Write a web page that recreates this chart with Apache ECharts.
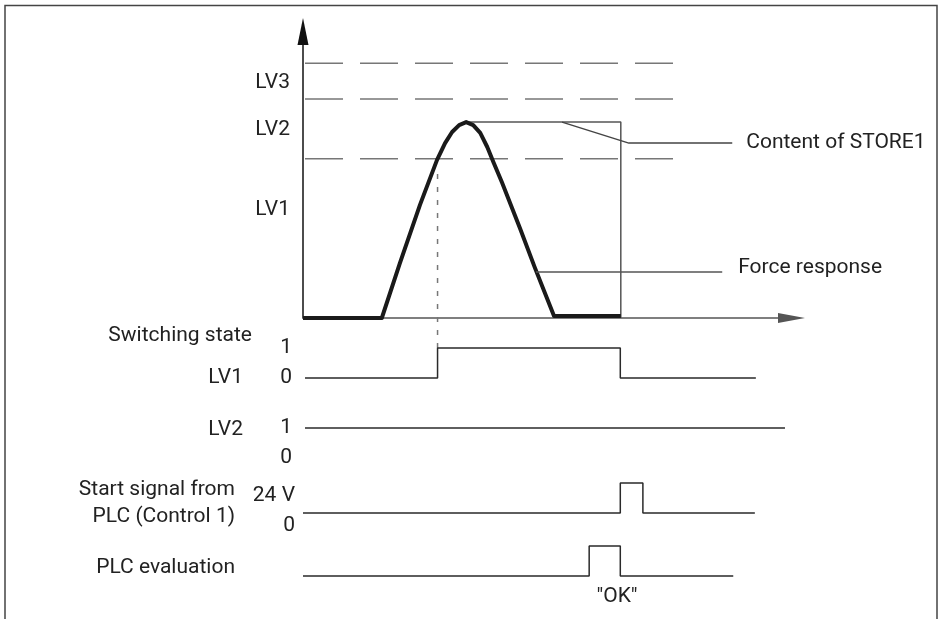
<!DOCTYPE html>
<html>
<head>
<meta charset="utf-8">
<title>Switching levels and force response</title>
<script src="https://cdn.jsdelivr.net/npm/echarts@6/dist/echarts.min.js"></script>
<style>
html, body { margin: 0; padding: 0; background: #fff; }
#chart { width: 942px; height: 619px; }
</style>
</head>
<body>
<div id="chart"></div>
<script>
// time in arbitrary units (0 = force axis), force in arbitrary units
const forceTime  = [0, 15.7, 19.3, 23.3, 26.7, 28.3, 29.7, 31.1, 32.5, 33.9, 35.3, 36.7, 38.0, 39.6, 43.2, 46.2, 50.0, 63.3];
const forceValue = [0, 0,    18.3, 37.7, 52.7, 58.3, 62.0, 64.3, 65.3, 64.3, 61.7, 57.0, 51.7, 45.3, 30.0, 16.7, 0.7,  0.7];

// limit value lines LV1, LV2, LV3
const levelValues = [53.1, 73.0, 84.9];
const levelStart = 0.4;
const levelEnd = 73.7;
const levelTickPos = [36, 62.9, 78.4];
const levelTickNames = ['LV1', 'LV2', 'LV3'];

// peak hold (STORE1)
const storeTime  = [32.5, 63.3, 63.3];
const storeValue = [65.3, 65.3, 0];

// switching states
const lv1Time  = [0.4, 26.8, 26.8, 63.2, 63.2, 90.2];
const lv1State = [0, 0, 1, 1, 0, 0];
const lv2Time  = [0.4, 96.0];
const lv2State = [1, 1];
const startTime  = [0, 63.2, 63.2, 67.7, 67.7, 90.0];
const startState = [0, 0, 1, 1, 0, 0];
const plcTime  = [0, 57.0, 57.0, 63.2, 63.2, 85.7];
const plcState = [0, 0, 1, 1, 0, 0];

// trigger marker (dashed vertical) and label leaders
const triggerTime = 26.8;
const triggerFrom = 48;
const triggerTo = -10;
const forceLeaderTime  = [46.4, 83.5];
const forceLeaderValue = [15.3, 15.3];
const storeLeaderTime  = [51.6, 64.9, 85.5];
const storeLeaderValue = [65.3, 58.3, 58.3];

const zip = (a, b) => a.map((v, i) => [v, b[i]]);

const FONT = 'Roboto';
const FS = 21;
const TXT = '#222';
const T_MAX = 97.3;

const chart = echarts.init(document.getElementById('chart'));

const gridTops = [348, 428, 483, 546];
const grids = [{ left: 303, top: 31.5, width: 488.5, height: 286.5 }]
  .concat(gridTops.map(t => ({ left: 303, top: t, width: 488.5, height: 30 })));

const xAxes = grids.map((g, i) => ({
  type: 'value', gridIndex: i, min: 0, max: T_MAX,
  axisLine: i === 0 ? {
    show: true, onZero: false,
    symbol: ['none', 'triangle'], symbolSize: [10, 27],
    lineStyle: { color: '#555', width: 1.5 }
  } : { show: false },
  axisTick: { show: false }, axisLabel: { show: false }, splitLine: { show: false }
}));

const stateLabels = [
  ['0', '1'], ['0', '1'], ['0', '24 V'], ['', '']
];

const yAxes = [{
  type: 'value', gridIndex: 0, min: 0, max: 95.5,
  axisLine: {
    show: true, onZero: false,
    symbol: ['none', 'triangle'], symbolSize: [11, 27],
    lineStyle: { color: '#111', width: 1.5 }
  },
  axisTick: { show: false }, splitLine: { show: false },
  axisLabel: {
    customValues: levelTickPos,
    margin: 13, fontSize: FS, fontFamily: FONT, color: TXT,
    formatter: v => {
      let best = 0;
      levelTickPos.forEach((p, i) => { if (Math.abs(p - v) < Math.abs(levelTickPos[best] - v)) best = i; });
      return levelTickNames[best];
    }
  }
}].concat(stateLabels.map((lab, i) => ({
  type: 'value', gridIndex: i + 1, min: 0, max: 1, interval: 1,
  axisLine: { show: false }, axisTick: { show: false }, splitLine: { show: false },
  axisLabel: {
    margin: i === 2 ? 8 : 11, fontSize: FS, fontFamily: FONT, color: TXT,
    verticalAlign: i === 2 ? 'top' : 'middle',
    padding: i === 2 ? [2, 0, 0, 0] : 0,
    formatter: v => lab[v]
  }
})));

const thin = (color) => ({ color: color, width: 1.5 });

const series = [];

levelValues.forEach(v => {
  series.push({
    type: 'line', xAxisIndex: 0, yAxisIndex: 0, symbol: 'none', silent: true,
    data: [[levelStart, v], [levelEnd, v]],
    lineStyle: { color: '#777', width: 1.5, type: [38, 17] }
  });
});

series.push({
  type: 'line', xAxisIndex: 0, yAxisIndex: 0, symbol: 'none', silent: true,
  data: zip(storeTime, storeValue),
  lineStyle: thin('#555')
});

series.push({
  type: 'line', xAxisIndex: 0, yAxisIndex: 0, symbol: 'none', silent: true, clip: false,
  data: [[triggerTime, triggerFrom], [triggerTime, triggerTo]],
  lineStyle: { color: '#777', width: 1.5, type: [5, 8] }
});

series.push({
  type: 'line', xAxisIndex: 0, yAxisIndex: 0, symbol: 'none', silent: true,
  data: zip(forceTime, forceValue),
  lineStyle: { color: '#1a1a1a', width: 4, join: 'round' }
});

series.push({
  type: 'line', xAxisIndex: 0, yAxisIndex: 0, symbol: 'none', silent: true, clip: false,
  data: zip(forceLeaderTime, forceLeaderValue),
  lineStyle: thin('#555'),
  endLabel: { show: true, formatter: 'Force response', distance: 16, offset: [0, -4],
    fontSize: FS, fontFamily: FONT, color: TXT }
});

series.push({
  type: 'line', xAxisIndex: 0, yAxisIndex: 0, symbol: 'none', silent: true, clip: false,
  data: zip(storeLeaderTime, storeLeaderValue),
  lineStyle: thin('#444'),
  endLabel: { show: true, formatter: 'Content of STORE1', distance: 14,
    fontSize: FS, fontFamily: FONT, color: TXT }
});

[[lv1Time, lv1State], [lv2Time, lv2State], [startTime, startState], [plcTime, plcState]]
  .forEach((s, i) => {
    series.push({
      type: 'line', xAxisIndex: i + 1, yAxisIndex: i + 1, symbol: 'none', silent: true, clip: false,
      data: zip(s[0], s[1]),
      lineStyle: thin('#2a2a2a')
    });
  });

const txt = (text, x, y, align) => ({
  type: 'text', silent: true,
  style: { text: text, x: x, y: y, align: align || 'right', verticalAlign: 'middle',
    font: FS + 'px ' + FONT, fill: TXT }
});

chart.setOption({
  animation: false,
  grid: grids,
  xAxis: xAxes,
  yAxis: yAxes,
  series: series,
  graphic: [
    { type: 'polyline', silent: true,
      shape: { points: [[5, 619], [5, 5.5], [937, 5.5], [937, 619]] },
      style: { stroke: '#444', lineWidth: 1.5, fill: null } },
    txt('Switching state', 252, 336),
    txt('LV1', 243, 378),
    txt('LV2', 243, 430),
    txt('Start signal from', 235, 490),
    txt('PLC (Control 1)', 235, 517),
    txt('PLC evaluation', 235, 568),
    txt('"OK"', 617, 597, 'center')
  ]
});
</script>
</body>
</html>
